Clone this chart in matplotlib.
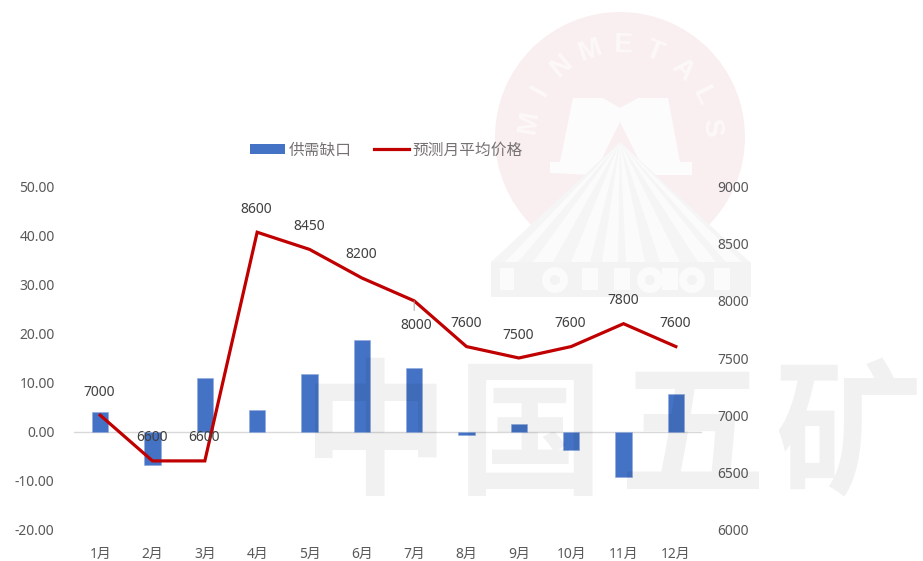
import numpy as np
import matplotlib
matplotlib.use('Agg')
import matplotlib.pyplot as plt
from matplotlib.lines import Line2D
from matplotlib.patches import Circle, Patch, Polygon, Rectangle

plt.rcParams['font.family'] = ['Noto Sans', 'Noto Sans CJK SC', 'DejaVu Sans']

months = ['1月', '2月', '3月', '4月', '5月', '6月', '7月', '8月', '9月', '10月', '11月', '12月']
gap = [4.0, -6.8, 10.9, 4.3, 11.8, 18.7, 13.0, -0.7, 1.6, -3.7, -9.2, 7.6]
price = [7000, 6600, 6600, 8600, 8450, 8200, 8000, 7600, 7500, 7600, 7800, 7600]
left_ticks = [-20, -10, 0, 10, 20, 30, 40, 50]
right_ticks = [6000, 6500, 7000, 7500, 8000, 8500, 9000]

W, H = 923, 561
BLUE = '#4472c4'
RED = '#c00000'
GREY = '#595959'

fig = plt.figure(figsize=(W / 100, H / 100), dpi=100, facecolor='white')


def px_axes(zorder):
    a = fig.add_axes([0, 0, 1, 1], zorder=zorder)
    a.set_xlim(0, W)
    a.set_ylim(H, 0)
    a.axis('off')
    a.patch.set_alpha(0)
    return a


# watermark logo behind the chart
bg = px_axes(-1)
cx, cy = 620, 137
bg.add_patch(Circle((cx, cy), 125, fc='#f9eff0', ec='none'))
for i, ch in enumerate('MINMETALS'):
    ang = np.radians(-81 + i * 20.6)
    bg.text(cx + 92 * np.sin(ang), cy - 92 * np.cos(ang), ch, color='#fdf9f9', fontsize=20,
            fontweight='bold', family='Liberation Sans', ha='center', va='center',
            rotation=-np.degrees(ang))

bg.add_patch(Polygon([(550, 173), (550, 162), (560, 162), (573, 98), (603, 98), (620, 108),
                      (638, 98), (668, 98), (680, 162), (692, 162), (692, 175), (646, 175),
                      (634, 150), (620, 122), (606, 150), (595, 175)], fc='#fdfcfc', ec='none'))

apex = (620, 142)
bg.add_patch(Polygon([apex, (491, 262), (750, 262)], fc='#f5f5f5', ec='none'))
for x0, x1 in [(505, 518), (533, 553), (571, 590), (602, 618), (626, 645), (660, 680), (698, 716), (726, 742)]:
    bg.add_patch(Polygon([apex, (x0, 262), (x1, 262)], fc='#fbfbfb', ec='none'))

bg.add_patch(Rectangle((491, 262), 260, 35, fc='#f3f3f3', ec='none'))
bg.add_patch(Rectangle((500, 268), 14, 22, fc='#fbfbfb', ec='none'))
for x, r in [(555, 13), (650, 13), (692, 13)]:
    bg.add_patch(Circle((x, 280), r, fc='#fbfbfb', ec='none'))
    bg.add_patch(Circle((x, 280), 5, fc='#f3f3f3', ec='none'))
for x in [590, 622, 670, 722]:
    bg.add_patch(Rectangle((x - 8, 268), 16, 22, fc='#fbfbfb', ec='none'))

# main chart
ax = fig.add_axes([74 / W, 1 - 529.5 / H, 628 / W, 343 / H], zorder=1)
ax.patch.set_alpha(0)
x = np.arange(len(months))
ax.bar(x, gap, width=0.31, color=BLUE, edgecolor='#8fa9dc', linewidth=0.4, zorder=2)
ax.axhline(0, color='#d9d9d9', linewidth=1, zorder=1)
ax.set_xlim(-0.5, 11.5)
ax.set_ylim(-20, 50)
ax.set_yticks(left_ticks)
ax.set_yticklabels([f'{t:.2f}' for t in left_ticks])
ax.set_xticks(x)
ax.set_xticklabels(months)
for s in ax.spines.values():
    s.set_visible(False)
ax.tick_params(axis='y', length=0, pad=14, labelsize=10, labelcolor=GREY)
ax.tick_params(axis='x', length=0, labelsize=10, labelcolor=GREY, pad=12.5)

ax2 = ax.twinx()
ax2.patch.set_alpha(0)
ax2.plot(x, price, color=RED, linewidth=2.3, solid_joinstyle='miter', zorder=3)
ax2.set_ylim(6000, 9000)
ax2.set_yticks(right_ticks)
ax2.tick_params(axis='y', length=0, pad=11, labelsize=10, labelcolor=GREY)
for s in ax2.spines.values():
    s.set_visible(False)

for i, (xi, p) in enumerate(zip(x, price)):
    # the 7月 label sits under the line, the others above it
    if i == 6:
        off = (1.5, -25 * 0.72)
    else:
        off = (-0.5, 23 * 0.72)
    ax2.annotate(str(p), (xi, p), xytext=off, textcoords='offset points',
                 ha='center', va='center', fontsize=10, color='#404040', zorder=4)
ax2.annotate('', (6, 8000), xytext=(0, -7), textcoords='offset points',
             arrowprops=dict(arrowstyle='-', color='#a6a6a6', linewidth=0.7, shrinkA=0, shrinkB=0))

handles = [Patch(fc=BLUE, ec='none'), Line2D([0], [0], color=RED, linewidth=2.3)]
fig.legend(handles, ['供需缺口', '预测月平均价格'], loc='center left',
           bbox_to_anchor=(250 / W, 1 - 150.5 / H), ncol=2, frameon=False, fontsize=11.3,
           labelcolor='#767171', borderpad=0, borderaxespad=0, handlelength=2.25,
           handleheight=0.57, handletextpad=0.2, columnspacing=1.42)

# big watermark characters lie over the bars
top = px_axes(5)
for xc, ch in zip([375, 530, 692, 848], '中国五矿'):
    top.text(xc, 440, ch, fontsize=106, fontweight='bold', family='Noto Sans CJK SC',
             color='black', alpha=0.055, ha='center', va='center')

fig.savefig('out.png', dpi=100)
